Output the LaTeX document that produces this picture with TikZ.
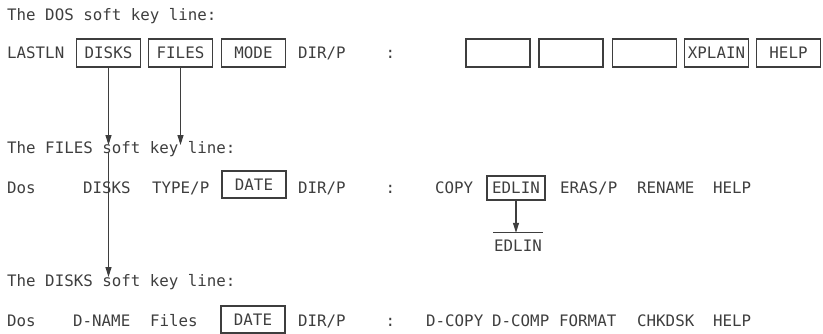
\documentclass[tikz,border=0pt]{standalone}
\usepackage{fontspec}
\setmonofont{DejaVu Sans Mono}
\definecolor{KeyInk}{RGB}{62,62,62}
\usetikzlibrary{arrows.meta}

\begin{document}
\begin{tikzpicture}[x=1pt,y=-1pt,
  txt/.style={font=\ttfamily\fontsize{15.8}{18}\selectfont,text=KeyInk,inner sep=0pt,anchor=west,text height=11.5pt,text depth=0pt},
  keybox/.style={txt,anchor=center,draw=KeyInk,line width=1.2pt,minimum width=64pt,minimum height=28pt},
  arr/.style={KeyInk,line width=1.1pt,-{Triangle[length=10pt,width=6pt]}}]
\useasboundingbox (0,0) rectangle (823,334);
% DOS line
\node[txt] (dostitle) at (7,15) {The DOS soft key line:};
\node[txt] (lastln) at (7,53) {LASTLN};
\node[keybox] (dosdisks) at (108.5,53) {DISKS};
\node[keybox] (dosfiles) at (180.5,53) {FILES};
\node[keybox] (dosmode) at (253.5,53) {MODE};
\node[txt] (dosdir) at (298,53) {DIR/P};
\node[txt] (doscolon) at (385.5,53) {:};
\node[keybox] (dosblanka) at (498,53) {};
\node[keybox] (dosblankb) at (571,53) {};
\node[keybox] (dosblankc) at (644.5,53) {};
\node[keybox] (dosxplain) at (716.5,53) {XPLAIN};
\node[keybox] (doshelp) at (788.5,53) {HELP};
% FILES line
\node[txt] (filestitle) at (7,148) {The FILES soft key line:};
\node[txt] (filesdos) at (7,188) {Dos};
\node[txt] (filesdisks) at (83,188) {DISKS};
\node[txt] (filestype) at (152,188) {TYPE/P};
\node[keybox,minimum height=27pt] (filesdate) at (254,184.5) {DATE};
\node[txt] (filesdir) at (298,188) {DIR/P};
\node[txt] (filescolon) at (385.5,188) {:};
\node[txt] (filescopy) at (435,188) {COPY};
\node[keybox,minimum width=58pt,minimum height=24pt] (filesedlin) at (516,188) {EDLIN};
\node[txt] (fileseras) at (560,188) {ERAS/P};
\node[txt] (filesrename) at (637,188) {RENAME};
\node[txt] (fileshelp) at (713,188) {HELP};
\node[txt,anchor=center,inner xsep=1pt,inner ysep=7.25pt] (edlinsub) at (518,246) {EDLIN};
\draw[KeyInk,line width=1.2pt] (edlinsub.north west) -- (edlinsub.north east);
% DISKS line
\node[txt] (diskstitle) at (7,281) {The DISKS soft key line:};
\node[txt] (disksdos) at (7,321) {Dos};
\node[txt] (disksname) at (73,321) {D-NAME};
\node[txt] (disksfiles) at (150,321) {Files};
\node[keybox,minimum height=27pt] (disksdate) at (253,319.5) {DATE};
\node[txt] (disksdir) at (298,321) {DIR/P};
\node[txt] (diskscolon) at (385.5,321) {:};
\node[txt] (diskscopy) at (426,321) {D-COPY};
\node[txt] (diskscomp) at (492,321) {D-COMP};
\node[txt] (disksformat) at (559,321) {FORMAT};
\node[txt] (diskschk) at (637,321) {CHKDSK};
\node[txt] (diskshelp) at (713,321) {HELP};
% arrows
\draw[arr] (dosdisks.south) -- ([yshift=-3pt]dosdisks.south |- filestitle.north);
\draw[arr] (dosfiles.south) -- ([yshift=-3pt]dosfiles.south |- filestitle.north);
\draw[arr] ([yshift=2pt]dosdisks.south |- filestitle.south) -- ([yshift=-2pt]dosdisks.south |- diskstitle.north);
\draw[arr] (filesedlin.south) -- (filesedlin.south |- edlinsub.north);
\end{tikzpicture}
\end{document}
